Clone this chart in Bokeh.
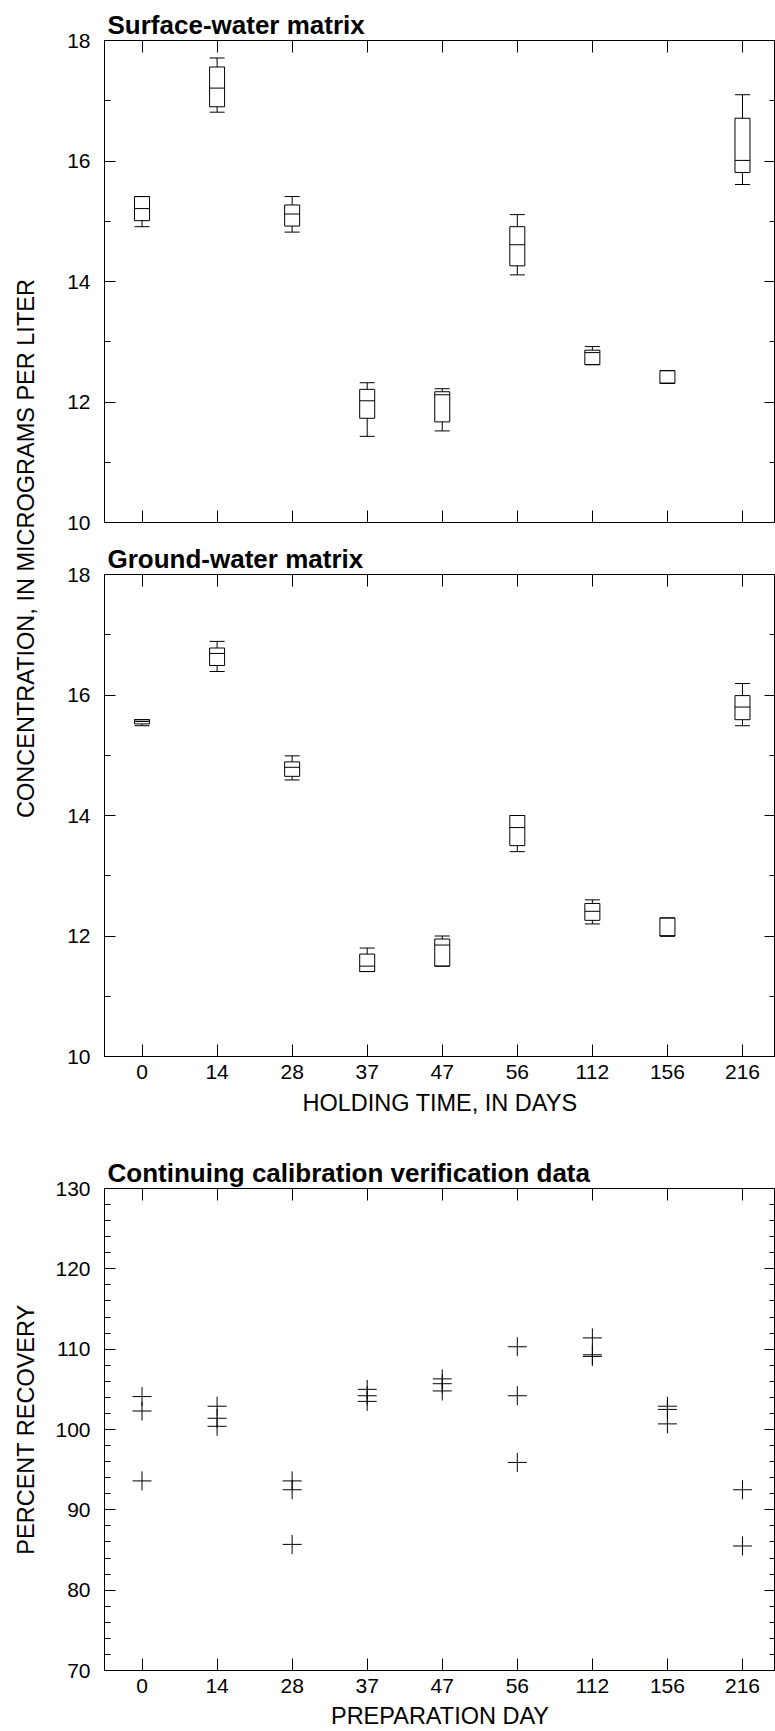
import math
from bokeh.plotting import figure
from bokeh.layouts import column, row
from bokeh.models import (Range1d, LinearAxis, FixedTicker, SingleIntervalTicker,
                          ColumnDataSource)
from bokeh.transform import dodge
from bokeh.core.properties import value
from bokeh.embed import file_html
from bokeh.resources import INLINE

# ---------------- data ----------------
days = ["0", "14", "28", "37", "47", "56", "112", "156", "216"]

# Surface-water matrix (box plots), micrograms per liter
sw_low  = [14.91, 16.81, 14.82, 11.43, 11.52, 14.11, 12.62, 12.31, 15.61]
sw_q1   = [15.01, 16.90, 14.92, 11.73, 11.67, 14.26, 12.62, 12.31, 15.81]
sw_med  = [15.21, 17.21, 15.12, 12.02, 12.12, 14.61, 12.82, 12.31, 16.01]
sw_q3   = [15.41, 17.56, 15.27, 12.21, 12.17, 14.91, 12.86, 12.52, 16.71]
sw_high = [15.41, 17.71, 15.41, 12.32, 12.22, 15.11, 12.92, 12.52, 17.10]

# Ground-water matrix (box plots)
gw_low  = [15.49, 16.39, 14.59, 11.41, 11.50, 13.40, 12.20, 12.00, 15.49]
gw_q1   = [15.52, 16.49, 14.65, 11.41, 11.50, 13.50, 12.26, 12.00, 15.59]
gw_med  = [15.56, 16.69, 14.80, 11.50, 11.85, 13.80, 12.41, 12.00, 15.80]
gw_q3   = [15.59, 16.78, 14.89, 11.70, 11.95, 14.00, 12.54, 12.30, 15.99]
gw_high = [15.59, 16.89, 14.99, 11.80, 12.00, 14.00, 12.60, 12.30, 16.19]

# Continuing calibration verification data, percent recovery
ccv_day = ["0", "0", "0", "14", "14", "14", "28", "28", "28",
           "37", "37", "37", "47", "47", "47", "56", "56", "56",
           "112", "112", "112", "156", "156", "156", "216", "216"]
ccv_pct = [104.1, 102.3, 93.6, 102.9, 101.4, 100.4, 93.6, 92.5, 85.7,
           105.0, 104.2, 103.5, 106.3, 105.7, 104.8, 110.3, 104.2, 95.9,
           111.4, 109.3, 109.1, 102.9, 102.5, 100.7, 92.5, 85.5]

# ---------------- styling ----------------
FONT = "Liberation Sans"
TICK_FS = "21px"
LABEL_FS = "23.5px"
TITLE_FS = "26px"
X_END = 8.44
BOX_W = 0.2
LABEL_W = 40
TOTAL_W = 775
LEFT_B = 104


def blank_axis(ax):
    ax.major_label_text_font_size = "1px"
    ax.major_label_text_color = None
    ax.major_label_standoff = 0
    ax.axis_label = None


def setup(p, yticker_fn, show_xlabels, xlabel, xlabel_standoff=6):
    p.grid.visible = False
    p.outline_line_color = "black"
    p.background_fill_color = "white"
    p.border_fill_color = "white"
    n = len(days)
    # bottom axis
    bx = p.xaxis[0]
    bx.ticker = FixedTicker(ticks=list(range(n)), minor_ticks=[])
    bx.major_label_overrides = {i: d for i, d in enumerate(days)}
    bx.major_tick_in = 12
    bx.major_tick_out = 0
    bx.minor_tick_in = 0
    bx.minor_tick_out = 0
    bx.axis_line_color = "black"
    bx.major_tick_line_color = "black"
    if show_xlabels:
        bx.major_label_text_font = FONT
        bx.major_label_text_font_size = TICK_FS
        bx.major_label_text_color = "black"
        bx.major_label_standoff = 8
        bx.axis_label = xlabel
        bx.axis_label_text_font = FONT
        bx.axis_label_text_font_size = LABEL_FS
        bx.axis_label_text_font_style = "normal"
        bx.axis_label_text_color = "black"
        bx.axis_label_standoff = xlabel_standoff
    else:
        blank_axis(bx)
    # top axis (ticks only)
    tx = LinearAxis(ticker=FixedTicker(ticks=list(range(n)), minor_ticks=[]),
                    major_tick_in=12, major_tick_out=0,
                    minor_tick_in=0, minor_tick_out=0,
                    axis_line_color="black", major_tick_line_color="black")
    blank_axis(tx)
    p.add_layout(tx, "above")
    # left axis
    ly = p.yaxis[0]
    ly.ticker = yticker_fn()
    ly.major_tick_in = 11
    ly.major_tick_out = 0
    ly.minor_tick_in = 6
    ly.minor_tick_out = 0
    ly.axis_line_color = "black"
    ly.major_tick_line_color = "black"
    ly.minor_tick_line_color = "black"
    ly.major_label_text_font = FONT
    ly.major_label_text_font_size = TICK_FS
    ly.major_label_text_color = "black"
    ly.major_label_standoff = 14
    # right axis (ticks only)
    ry = LinearAxis(ticker=yticker_fn(), major_tick_in=11, major_tick_out=0,
                    minor_tick_in=6, minor_tick_out=0,
                    axis_line_color="black", major_tick_line_color="black",
                    minor_tick_line_color="black")
    blank_axis(ry)
    p.add_layout(ry, "right")


def style_title(p):
    p.title.text_font = FONT
    p.title.text_font_size = TITLE_FS
    p.title.text_font_style = "bold"
    p.title.text_color = "black"
    p.title.align = "left"
    p.title.offset = 3
    p.title.standoff = 1


def conc_ticker():
    return SingleIntervalTicker(interval=2, num_minor_ticks=2)


def pct_ticker():
    return SingleIntervalTicker(interval=10, num_minor_ticks=5)


def box_panel(title, low, q1, med, q3, high, height, top_border, bottom_border,
              show_xlabels, xlabel=None):
    p = figure(width=TOTAL_W - LABEL_W, height=height,
               x_range=Range1d(-0.5, X_END), y_range=Range1d(10, 18),
               output_backend="svg", toolbar_location=None,
               min_border_left=LEFT_B - LABEL_W, min_border_right=0,
               min_border_top=top_border, min_border_bottom=bottom_border,
               title=title)
    style_title(p)
    setup(p, conc_ticker, show_xlabels, xlabel, xlabel_standoff=8)
    src = ColumnDataSource(dict(x=list(range(len(days))), low=low, q1=q1,
                                med=med, q3=q3, high=high))
    lk = dict(line_color="black", line_width=1)
    p.segment(x0="x", y0="low", x1="x", y1="q1", source=src, **lk)
    p.segment(x0="x", y0="q3", x1="x", y1="high", source=src, **lk)
    p.segment(x0=dodge("x", -BOX_W / 2), y0="low", x1=dodge("x", BOX_W / 2), y1="low", source=src, **lk)
    p.segment(x0=dodge("x", -BOX_W / 2), y0="high", x1=dodge("x", BOX_W / 2), y1="high", source=src, **lk)
    p.vbar(x="x", width=BOX_W, bottom="q1", top="q3", fill_color=None, source=src, **lk)
    p.segment(x0=dodge("x", -BOX_W / 2), y0="med", x1=dodge("x", BOX_W / 2), y1="med", source=src, **lk)
    return p


FRAME = 482
TOP1 = 40
h1 = TOP1 + FRAME + 12
h2 = TOP1 + FRAME + 97
p1 = box_panel("Surface-water matrix", sw_low, sw_q1, sw_med, sw_q3, sw_high,
               h1, TOP1, 12, False)
p2 = box_panel("Ground-water matrix", gw_low, gw_q1, gw_med, gw_q3, gw_high,
               h2, TOP1, 97, True, "HOLDING TIME, IN DAYS")

# shared y-axis label for the two upper panels
H = h1 + h2
center_from_top = (TOP1 + (h1 + TOP1 + FRAME)) / 2.0
lab = figure(width=LABEL_W, height=H, x_range=Range1d(0, LABEL_W), y_range=Range1d(0, H),
             output_backend="svg", toolbar_location=None, min_border=0,
             x_axis_location=None, y_axis_location=None)
lab.outline_line_color = None
lab.grid.visible = False
lab.text(x=[25], y=[H - center_from_top], text=["CONCENTRATION, IN MICROGRAMS PER LITER"],
         angle=math.pi / 2, text_align="center", text_baseline="middle",
         text_font=value(FONT), text_font_size=LABEL_FS, text_color="black")

# bottom panel
h3 = 1731 - H
p3 = figure(width=TOTAL_W, height=h3,
            x_range=Range1d(-0.5, X_END), y_range=Range1d(70, 130),
            output_backend="svg", toolbar_location=None,
            min_border_left=LEFT_B, min_border_right=0,
            min_border_top=35, min_border_bottom=60,
            title="Continuing calibration verification data")
style_title(p3)
setup(p3, pct_ticker, True, "PREPARATION DAY", xlabel_standoff=7)
ly3 = p3.yaxis[0]
ly3.axis_label = "PERCENT RECOVERY"
ly3.axis_label_text_font = FONT
ly3.axis_label_text_font_size = LABEL_FS
ly3.axis_label_text_font_style = "normal"
ly3.axis_label_text_color = "black"
ly3.axis_label_standoff = 13

csrc = ColumnDataSource(dict(x=[days.index(d) for d in ccv_day], pct=ccv_pct))
p3.scatter(x="x", y="pct", marker="cross", size=19, line_color="black",
           line_width=1, source=csrc)

layout = column(row(lab, column(p1, p2)), p3)

open("out.html", "w").write(file_html(layout, INLINE))
